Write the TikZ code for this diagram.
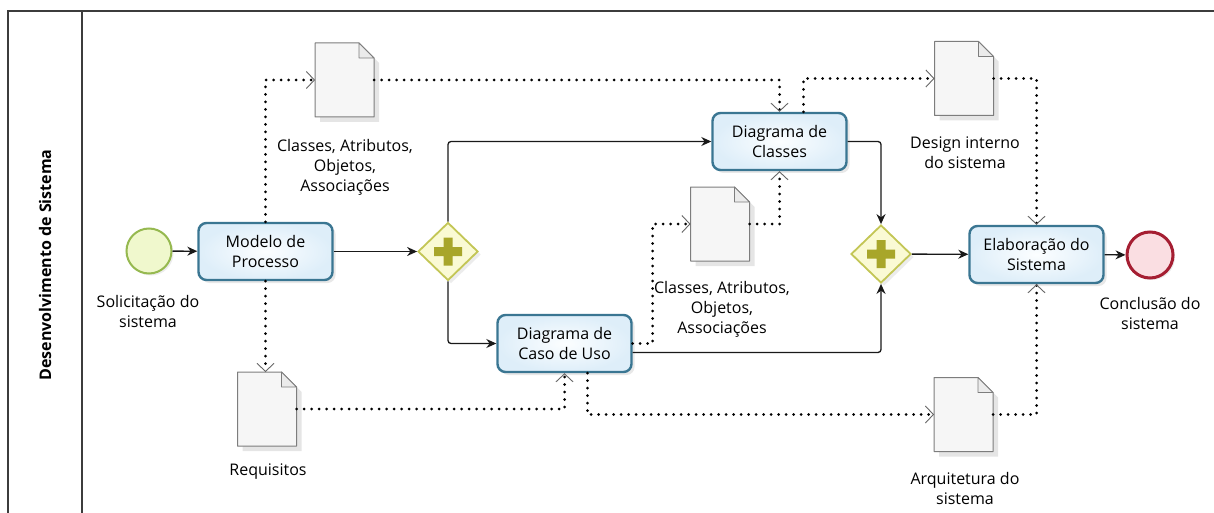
\documentclass[tikz,border=0pt]{standalone}
\usepackage{fontspec}
\setmainfont{Open Sans}
\usetikzlibrary{arrows.meta,shapes.geometric,calc,shadows}

\definecolor{poolline}{RGB}{60,60,60}
\definecolor{taskline}{RGB}{58,118,146}
\definecolor{taskin}{RGB}{252,254,255}
\definecolor{taskout}{RGB}{222,238,249}
\definecolor{startline}{RGB}{150,185,80}
\definecolor{startfill}{RGB}{240,248,205}
\definecolor{endline}{RGB}{165,30,50}
\definecolor{endfill}{RGB}{250,222,226}
\definecolor{gwline}{RGB}{195,198,85}
\definecolor{gwfill}{RGB}{250,250,212}
\definecolor{gwplus}{RGB}{168,166,42}
\definecolor{docline}{RGB}{125,125,125}
\definecolor{docfill}{RGB}{246,246,246}

\tikzset{
  task/.style={rounded corners=8pt, minimum width=134pt, minimum height=57pt,
    inner sep=2pt, align=center, draw=taskline, line width=2.4pt,
    inner color=taskin, outer color=taskout,
    drop shadow={opacity=0.18, shadow xshift=3pt, shadow yshift=-3pt}},
  startev/.style={circle, minimum size=45pt, inner sep=0, draw=startline,
    line width=2pt, fill=startfill,
    drop shadow={opacity=0.15, shadow xshift=2pt, shadow yshift=-2pt}},
  endev/.style={circle, minimum size=46pt, inner sep=0, draw=endline,
    line width=3pt, fill=endfill,
    drop shadow={opacity=0.15, shadow xshift=2pt, shadow yshift=-2pt}},
  gateway/.style={diamond, aspect=1, minimum width=60pt, minimum height=58pt,
    inner sep=0, draw=gwline, line width=1.8pt, fill=gwfill,
    drop shadow={opacity=0.15, shadow xshift=3pt, shadow yshift=-3pt},
    path picture={
      \fill[gwplus] ($(path picture bounding box.center)+(-14,-4.5)$) rectangle
                    ($(path picture bounding box.center)+(14,4.5)$)
                    ($(path picture bounding box.center)+(-4.5,-14)$) rectangle
                    ($(path picture bounding box.center)+(4.5,14)$);}},
  docnode/.style={minimum width=59pt, minimum height=74pt, inner sep=0, outer sep=0},
  lbl/.style={align=center, inner sep=0},
  flow/.style={line width=1.3pt, draw=black!90, rounded corners=3pt,
    -{Stealth[length=10pt,width=9pt]}},
  assoc/.style={draw=black, line width=3pt, line cap=round,
    dash pattern=on 0pt off 7.5pt,
    -{Straight Barb[length=8pt,width=17pt,line width=0.9pt,color=black!60]}},
}

\begin{document}
\begin{tikzpicture}[x=1pt, y=-1pt, font=\fontsize{16}{20}\selectfont]
  \path[use as bounding box] (0,0) rectangle (1214,513);
  \fill[white] (-10,-10) rectangle (1224,523);

  % pool and lane header (pool continues past the right and bottom edges)
  \draw[poolline, line width=1.3pt] (1230,11) -- (8,11) -- (8,530);
  \draw[poolline, line width=1.3pt] (82,11) -- (82,530);
  \node[rotate=90, font=\bfseries\fontsize{16}{18}\selectfont] (lane) at (45,265)
    {Desenvolvimento de Sistema};

  % events, tasks and gateways
  \node[startev] (start) at (149,251) {};
  \node[lbl] (startlbl) at (148,311) {Solicitação do\\sistema};
  \node[task] (t1) at (265.5,251.5) {Modelo de\\Processo};
  \node[gateway] (g1) at (448,251.5) {};
  \node[task] (t2) at (779.5,141.5) {Diagrama de\\Classes};
  \node[task] (t3) at (564.5,343.5) {Diagrama de\\Caso de Uso};
  \node[gateway] (g2) at (881,254) {};
  \node[task] (t4) at (1036.5,254.5) {Elaboração do\\Sistema};
  \node[endev] (end) at (1150,255) {};
  \node[lbl] (endlbl) at (1150,313) {Conclusão do\\sistema};

  % data objects
  \node[docnode] (d1) at (344.5,80) {};
  \node[docnode] (d2) at (720,224) {};
  \node[docnode] (d3) at (964,78.5) {};
  \node[docnode] (d4) at (267,409) {};
  \node[docnode] (d5) at (963.5,414.5) {};
  \foreach \d in {d1,d2,d3,d4,d5}{
    \fill[black, opacity=0.10] ($(\d.north west)+(5,5)$) -- ($(\d.north east)+(-10,5)$)
      -- ($(\d.north east)+(5,20)$) -- ($(\d.south east)+(5,5)$)
      -- ($(\d.south west)+(5,5)$) -- cycle;
    \filldraw[draw=docline, fill=docfill, line width=1pt, line join=round]
      (\d.north west) -- ($(\d.north east)+(-15,0)$) -- ($(\d.north east)+(0,15)$)
      -- (\d.south east) -- (\d.south west) -- cycle;
    \filldraw[draw=docline, fill=black!8, line width=0.8pt, line join=round]
      ($(\d.north east)+(-15,0)$) -- ($(\d.north east)+(-15,15)$)
      -- ($(\d.north east)+(0,15)$) -- cycle;
  }
  \node[lbl] (d1lbl) at (345,167) {Classes, Atributos,\\Objetos,\\Associações};
  \node[lbl] (d2lbl) at (722,309) {Classes, Atributos,\\Objetos,\\Associações};
  \node[lbl] (d3lbl) at (965,153) {Design interno\\do sistema};
  \node[lbl] (d4lbl) at (268,472) {Requisitos};
  \node[lbl] (d5lbl) at (965,488) {Arquitetura do\\sistema};

  % sequence flows
  \draw[flow] (start) -- (t1);
  \draw[flow] (t1) -- (g1);
  \draw[flow] (g1.north) |- (t2.west);
  \draw[flow] (g1.south) |- (t3.west);
  \draw[flow] (t2.east) -| (g2.north);
  \draw[flow] ($(t3.east)+(0,9)$) -| (g2.south);
  \draw[flow] (g2) -- (t4);
  \draw[flow] (t4) -- (end);

  % data associations
  \draw[assoc] (t1.north) |- (d1.west);
  \draw[assoc] (t1.south) -- (t1.south |- d4.north);
  \draw[assoc] (d1.east) -| (t2.north);
  \draw[assoc] ($(t2.north)+(24,0)$) |- (d3.west);
  \draw[assoc] (d3.east) -| (t4.north);
  \draw[assoc] (t3.east) -- ++(20,0) |- (d2.west);
  \draw[assoc] (d2.east) -| (t2.south);
  \draw[assoc] (d4.east) -| (t3.south);
  \draw[assoc] ($(t3.south)+(23,0)$) |- (d5.west);
  \draw[assoc] (d5.east) -| (t4.south);
\end{tikzpicture}
\end{document}
